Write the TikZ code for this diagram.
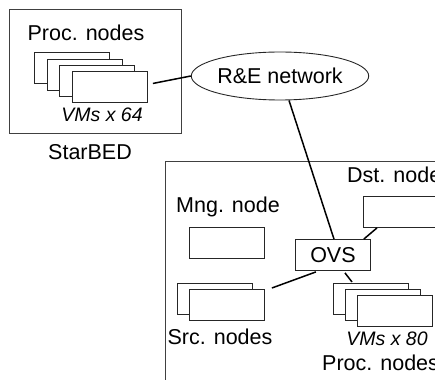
\documentclass[tikz,border=0pt]{standalone}
\usepackage{fontspec}
\setmainfont{Liberation Sans}
\usetikzlibrary{shapes.geometric,calc}
\tikzset{
  lbl/.style={inner sep=0pt, font=\fontsize{21.5}{24}\selectfont},
  vmlbl/.style={inner sep=0pt, font=\fontsize{19.5}{22}\selectfont\itshape},
  hostbox/.style={draw=black!85, line width=0.9pt, fill=white, minimum width=75pt, minimum height=31pt, inner sep=0pt},
  frame/.style={draw=black!75, line width=0.8pt},
  link/.style={draw=black, line width=1.5pt},
}
\begin{document}
\begin{tikzpicture}[x=1pt,y=-1pt]
  \useasboundingbox (0,0) rectangle (435,379);
  \clip (0,0) rectangle (435,379);

  % StarBED site
  \draw[frame] (9,9) rectangle (181,133);
  \node[lbl] (sbtitle) at (86,33) {Proc. nodes};
  \node[hostbox, anchor=north west] (sb1) at (34,52) {};
  \node[hostbox, anchor=north west] (sb2) at (47,59) {};
  \node[hostbox, anchor=north west] (sb3) at (59,65) {};
  \node[hostbox, anchor=north west] (sb4) at (72,71) {};
  \node[vmlbl] (sbvm) at (102,115) {VMs x 64};
  \node[lbl] (sbname) at (90,152) {StarBED};

  % research & education network
  \node[draw=black!85, line width=0.9pt, ellipse, minimum width=166pt, minimum height=48pt, inner sep=0pt, font=\fontsize{21.5}{24}\selectfont] (re) at (280,76) {R\&E network};

  % local site
  \draw[frame] (500,161) -- (165,161) -- (165,420);
  \node[lbl] (dsttitle) [anchor=west] at (347,175) {Dst. node};
  \node[hostbox, anchor=north west] (dst) at (363,196) {};
  \node[lbl] (mngtitle) at (228,207) {Mng. node};
  \node[hostbox, anchor=north west] (mng) at (189,227) {};
  \node[hostbox, anchor=north west, font=\fontsize{21.5}{24}\selectfont] (ovs) at (295,239) {OVS};
  \node[hostbox, anchor=north west] (src1) at (177,283) {};
  \node[hostbox, anchor=north west] (src2) at (189,289) {};
  \node[lbl] (srctitle) at (220,337) {Src. nodes};
  \node[hostbox, anchor=north west] (pn1) at (333,283) {};
  \node[hostbox, anchor=north west] (pn2) at (345,289) {};
  \node[hostbox, anchor=north west] (pn3) at (357,295) {};
  \node[vmlbl] (pnvm) at (387,339) {VMs x 80};
  \node[lbl] (pntitle) [anchor=west] at (322,363) {Proc. nodes};

  % links
  \draw[link] ($(sb4.east)+(5,-3.5)$) -- (re.west);
  \draw[link] ($(re.south)+(9,0)$) -- ($(ovs.north)+(1,0)$);
  \draw[link] ($(ovs.north east)+(-7,0)$) -- ($(dst.south west)+(14,0)$);
  \draw[link] ($(ovs.south)+(-17,1)$) -- ($(src2.north east)+(7,-1)$);
  \draw[link] ($(ovs.south)+(12,2)$) -- ($(pn1.north west)+(19,-1)$);
\end{tikzpicture}
\end{document}
